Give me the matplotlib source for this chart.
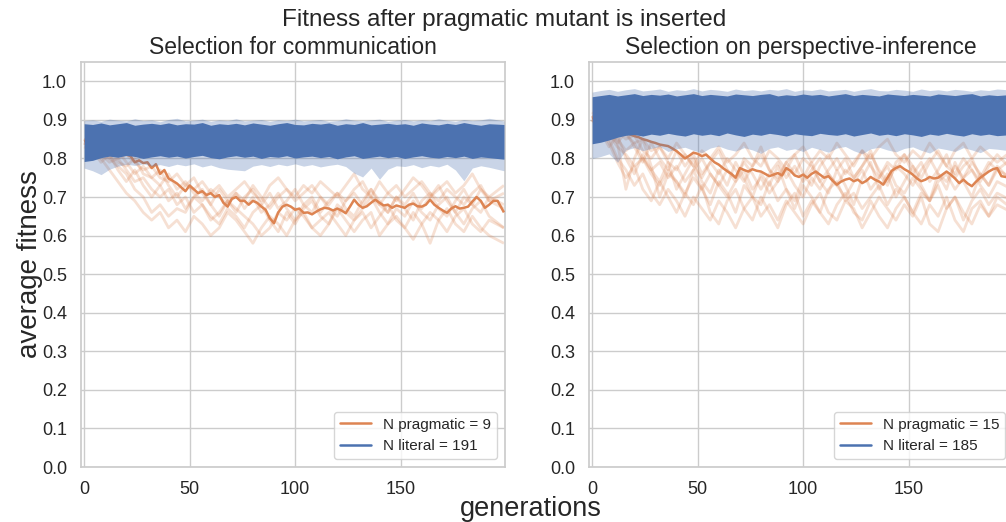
import numpy as np
import matplotlib
matplotlib.use("Agg")
import matplotlib.pyplot as plt
import seaborn as sns
from matplotlib.lines import Line2D

sns.set_theme(style="whitegrid")
plt.rcParams["font.family"] = ["Liberation Sans", "DejaVu Sans"]

titles = ["Selection for communication", "Selection on perspective-inference"]
n_pragmatic = [9, 15]
n_literal = [191, 185]

# mean fitness of pragmatic agents, every 2 generations
prag_mean_comm = [
    0.845, 0.843, 0.840, 0.838, 0.835, 0.832, 0.828, 0.825, 0.820, 0.815,
    0.810, 0.806, 0.790, 0.795, 0.788, 0.790, 0.775, 0.785, 0.760, 0.770,
    0.748, 0.742, 0.735, 0.725, 0.715, 0.730, 0.720, 0.710, 0.715, 0.705,
    0.710, 0.700, 0.705, 0.685, 0.675, 0.695, 0.700, 0.690, 0.690, 0.680,
    0.690, 0.685, 0.675, 0.667, 0.645, 0.632, 0.660, 0.675, 0.680, 0.675,
    0.667, 0.670, 0.659, 0.660, 0.655, 0.662, 0.668, 0.672, 0.670, 0.665,
    0.670, 0.665, 0.658, 0.675, 0.693, 0.680, 0.672, 0.676, 0.685, 0.693,
    0.685, 0.678, 0.680, 0.672, 0.678, 0.675, 0.672, 0.680, 0.683, 0.676,
    0.675, 0.680, 0.693, 0.680, 0.672, 0.665, 0.659, 0.670, 0.676, 0.670,
    0.672, 0.675, 0.688, 0.700, 0.690, 0.672, 0.680, 0.690, 0.690, 0.660]
prag_mean_persp = [
    0.905, 0.900, 0.895, 0.890, 0.885, 0.880, 0.875, 0.870, 0.868, 0.862,
    0.858, 0.855, 0.850, 0.847, 0.843, 0.840, 0.836, 0.834, 0.832, 0.826,
    0.819, 0.810, 0.800, 0.807, 0.815, 0.812, 0.806, 0.810, 0.800, 0.790,
    0.784, 0.775, 0.767, 0.760, 0.750, 0.775, 0.770, 0.766, 0.772, 0.768,
    0.766, 0.760, 0.754, 0.758, 0.762, 0.756, 0.775, 0.768, 0.756, 0.752,
    0.758, 0.750, 0.760, 0.766, 0.758, 0.750, 0.754, 0.742, 0.732, 0.740,
    0.745, 0.748, 0.741, 0.745, 0.736, 0.742, 0.752, 0.745, 0.740, 0.732,
    0.750, 0.768, 0.775, 0.780, 0.772, 0.766, 0.758, 0.748, 0.741, 0.745,
    0.752, 0.748, 0.750, 0.758, 0.766, 0.758, 0.748, 0.736, 0.745, 0.735,
    0.728, 0.740, 0.750, 0.758, 0.766, 0.772, 0.775, 0.754, 0.752, 0.748]

# individual pragmatic runs, every 4 generations
prag_runs_comm = [
    [0.84, 0.83, 0.82, 0.80, 0.78, 0.76, 0.72, 0.70, 0.66, 0.68, 0.65, 0.67, 0.66, 0.70, 0.68, 0.64, 0.66,
     0.69, 0.67, 0.65, 0.63, 0.60, 0.62, 0.66, 0.64, 0.67, 0.65, 0.62, 0.64, 0.66, 0.63, 0.60, 0.64, 0.66,
     0.62, 0.65, 0.68, 0.64, 0.62, 0.66, 0.63, 0.58, 0.64, 0.67, 0.63, 0.61, 0.65, 0.62, 0.60, 0.58],
    [0.85, 0.84, 0.83, 0.82, 0.80, 0.81, 0.79, 0.77, 0.78, 0.75, 0.74, 0.76, 0.73, 0.72, 0.74, 0.71, 0.73,
     0.70, 0.72, 0.74, 0.71, 0.69, 0.73, 0.75, 0.72, 0.70, 0.73, 0.71, 0.74, 0.72, 0.70, 0.73, 0.76, 0.72,
     0.70, 0.74, 0.71, 0.69, 0.72, 0.75, 0.73, 0.70, 0.72, 0.74, 0.71, 0.73, 0.76, 0.72, 0.70, 0.73],
    [0.84, 0.83, 0.81, 0.79, 0.80, 0.77, 0.74, 0.75, 0.72, 0.70, 0.72, 0.68, 0.70, 0.66, 0.68, 0.65, 0.63,
     0.67, 0.65, 0.62, 0.66, 0.68, 0.64, 0.61, 0.66, 0.63, 0.67, 0.69, 0.65, 0.63, 0.68, 0.66, 0.64, 0.67,
     0.70, 0.66, 0.63, 0.67, 0.65, 0.69, 0.66, 0.64, 0.68, 0.70, 0.66, 0.63, 0.67, 0.69, 0.65, 0.62],
    [0.83, 0.82, 0.80, 0.77, 0.74, 0.71, 0.69, 0.66, 0.64, 0.66, 0.62, 0.64, 0.61, 0.65, 0.63, 0.60, 0.62,
     0.66, 0.64, 0.61, 0.58, 0.62, 0.65, 0.63, 0.60, 0.64, 0.66, 0.62, 0.60, 0.63, 0.67, 0.64, 0.61, 0.64,
     0.66, 0.60, 0.63, 0.65, 0.62, 0.59, 0.63, 0.66, 0.64, 0.61, 0.65, 0.67, 0.63, 0.61, 0.64, 0.62],
    [0.85, 0.83, 0.82, 0.81, 0.79, 0.78, 0.80, 0.76, 0.75, 0.73, 0.76, 0.72, 0.74, 0.71, 0.69, 0.72, 0.70,
     0.68, 0.71, 0.69, 0.73, 0.70, 0.67, 0.70, 0.72, 0.69, 0.71, 0.73, 0.70, 0.68, 0.71, 0.69, 0.72, 0.74,
     0.70, 0.68, 0.71, 0.73, 0.70, 0.72, 0.74, 0.71, 0.69, 0.72, 0.70, 0.68, 0.71, 0.73, 0.69, 0.67],
    [0.84, 0.82, 0.79, 0.81, 0.77, 0.74, 0.77, 0.73, 0.70, 0.73, 0.69, 0.71, 0.67, 0.70, 0.72, 0.68, 0.65,
     0.69, 0.71, 0.67, 0.70, 0.66, 0.68, 0.71, 0.67, 0.64, 0.68, 0.70, 0.66, 0.69, 0.71, 0.67, 0.65, 0.69,
     0.72, 0.68, 0.66, 0.70, 0.67, 0.64, 0.69, 0.71, 0.67, 0.65, 0.69, 0.72, 0.68, 0.66, 0.70, 0.68],
    [0.85, 0.84, 0.82, 0.80, 0.82, 0.79, 0.76, 0.78, 0.75, 0.77, 0.73, 0.70, 0.73, 0.75, 0.71, 0.68, 0.72,
     0.69, 0.66, 0.70, 0.72, 0.68, 0.71, 0.67, 0.69, 0.72, 0.68, 0.66, 0.70, 0.67, 0.65, 0.69, 0.71, 0.68,
     0.72, 0.69, 0.66, 0.70, 0.68, 0.71, 0.67, 0.70, 0.73, 0.69, 0.66, 0.70, 0.68, 0.72, 0.69, 0.71],
]
prag_runs_persp = [
    [0.90, 0.88, 0.86, 0.84, 0.72, 0.80, 0.85, 0.78, 0.70, 0.76, 0.74, 0.70, 0.77, 0.72, 0.68, 0.74, 0.71,
     0.66, 0.73, 0.70, 0.68, 0.74, 0.69, 0.72, 0.67, 0.73, 0.70, 0.66, 0.72, 0.74, 0.69, 0.71, 0.67, 0.70,
     0.73, 0.68, 0.72, 0.70, 0.66, 0.71, 0.69, 0.73, 0.67, 0.70, 0.64, 0.69, 0.72, 0.68, 0.71, 0.69],
    [0.91, 0.90, 0.88, 0.87, 0.86, 0.84, 0.85, 0.82, 0.83, 0.80, 0.84, 0.81, 0.78, 0.82, 0.80, 0.83, 0.79,
     0.81, 0.84, 0.80, 0.78, 0.82, 0.80, 0.77, 0.81, 0.83, 0.79, 0.82, 0.80, 0.84, 0.81, 0.78, 0.82, 0.80,
     0.83, 0.85, 0.81, 0.79, 0.82, 0.80, 0.84, 0.81, 0.78, 0.82, 0.84, 0.80, 0.83, 0.81, 0.79, 0.82],
    [0.90, 0.89, 0.86, 0.83, 0.81, 0.78, 0.80, 0.76, 0.73, 0.77, 0.74, 0.71, 0.75, 0.72, 0.76, 0.73, 0.70,
     0.74, 0.77, 0.72, 0.75, 0.71, 0.74, 0.77, 0.73, 0.70, 0.75, 0.72, 0.76, 0.73, 0.70, 0.74, 0.77, 0.72,
     0.75, 0.78, 0.73, 0.71, 0.75, 0.72, 0.69, 0.74, 0.76, 0.72, 0.75, 0.77, 0.73, 0.70, 0.74, 0.72],
    [0.91, 0.88, 0.85, 0.80, 0.77, 0.73, 0.76, 0.71, 0.68, 0.72, 0.69, 0.65, 0.70, 0.67, 0.64, 0.69, 0.66,
     0.62, 0.67, 0.70, 0.65, 0.68, 0.64, 0.69, 0.66, 0.63, 0.68, 0.71, 0.66, 0.64, 0.69, 0.67, 0.62, 0.66,
     0.70, 0.67, 0.64, 0.68, 0.65, 0.70, 0.63, 0.61, 0.67, 0.70, 0.66, 0.63, 0.68, 0.65, 0.70, 0.67],
    [0.92, 0.90, 0.89, 0.87, 0.85, 0.86, 0.82, 0.80, 0.83, 0.79, 0.77, 0.81, 0.78, 0.75, 0.79, 0.76, 0.80,
     0.77, 0.74, 0.78, 0.81, 0.77, 0.75, 0.79, 0.76, 0.80, 0.78, 0.74, 0.77, 0.80, 0.76, 0.79, 0.82, 0.78,
     0.75, 0.79, 0.77, 0.81, 0.78, 0.75, 0.79, 0.82, 0.78, 0.76, 0.80, 0.77, 0.74, 0.78, 0.81, 0.77],
    [0.91, 0.89, 0.87, 0.85, 0.82, 0.84, 0.80, 0.77, 0.79, 0.75, 0.78, 0.74, 0.77, 0.80, 0.76, 0.73, 0.77,
     0.75, 0.79, 0.76, 0.72, 0.76, 0.79, 0.75, 0.78, 0.74, 0.77, 0.80, 0.76, 0.73, 0.77, 0.75, 0.78, 0.81,
     0.77, 0.74, 0.78, 0.76, 0.73, 0.77, 0.80, 0.76, 0.74, 0.78, 0.75, 0.79, 0.76, 0.73, 0.77, 0.75],
    [0.90, 0.87, 0.83, 0.86, 0.80, 0.76, 0.81, 0.77, 0.74, 0.79, 0.72, 0.76, 0.80, 0.74, 0.71, 0.77, 0.73,
     0.79, 0.75, 0.70, 0.76, 0.73, 0.78, 0.72, 0.69, 0.75, 0.79, 0.74, 0.71, 0.77, 0.73, 0.68, 0.75, 0.79,
     0.72, 0.76, 0.70, 0.74, 0.78, 0.73, 0.69, 0.76, 0.72, 0.79, 0.74, 0.70, 0.76, 0.73, 0.78, 0.74],
    [0.91, 0.89, 0.88, 0.84, 0.87, 0.83, 0.79, 0.84, 0.80, 0.77, 0.82, 0.78, 0.81, 0.76, 0.79, 0.82, 0.77,
     0.74, 0.80, 0.78, 0.83, 0.77, 0.74, 0.79, 0.81, 0.76, 0.73, 0.78, 0.81, 0.77, 0.80, 0.75, 0.78, 0.82,
     0.76, 0.73, 0.79, 0.81, 0.76, 0.79, 0.74, 0.77, 0.81, 0.75, 0.78, 0.80, 0.75, 0.79, 0.77, 0.80],
    [0.90, 0.88, 0.84, 0.79, 0.75, 0.78, 0.72, 0.69, 0.74, 0.70, 0.66, 0.71, 0.68, 0.73, 0.66, 0.63, 0.69,
     0.72, 0.67, 0.64, 0.70, 0.66, 0.62, 0.68, 0.71, 0.65, 0.69, 0.66, 0.63, 0.68, 0.71, 0.66, 0.64, 0.69,
     0.65, 0.62, 0.67, 0.70, 0.66, 0.63, 0.68, 0.65, 0.70, 0.64, 0.61, 0.67, 0.69, 0.65, 0.68, 0.66],
]

# literal agents: spread of the 191 / 185 runs, every 4 generations
lit_max_comm = [0.898, 0.900, 0.896, 0.902, 0.899, 0.897, 0.903, 0.898, 0.900, 0.895, 0.901, 0.904, 0.897,
                0.899, 0.902, 0.896, 0.900, 0.898, 0.903, 0.897, 0.899, 0.901, 0.896, 0.900, 0.898, 0.902,
                0.897, 0.899, 0.901, 0.896, 0.898, 0.903, 0.899, 0.897, 0.900, 0.902, 0.896, 0.899, 0.901,
                0.897, 0.900, 0.898, 0.903, 0.899, 0.896, 0.901, 0.898, 0.900, 0.904, 0.897]
lit_hi_comm = [0.890, 0.888, 0.892, 0.887, 0.890, 0.893, 0.886, 0.889, 0.891, 0.888, 0.892, 0.887, 0.890,
               0.889, 0.893, 0.886, 0.890, 0.888, 0.891, 0.887, 0.892, 0.889, 0.886, 0.890, 0.893, 0.888,
               0.887, 0.891, 0.889, 0.892, 0.886, 0.890, 0.888, 0.893, 0.887, 0.889, 0.891, 0.888, 0.890,
               0.886, 0.892, 0.889, 0.887, 0.891, 0.888, 0.893, 0.889, 0.886, 0.890, 0.888]
lit_lo_comm = [0.792, 0.795, 0.802, 0.806, 0.803, 0.808, 0.805, 0.800, 0.804, 0.807, 0.803, 0.806, 0.801,
               0.805, 0.808, 0.802, 0.799, 0.804, 0.807, 0.803, 0.806, 0.800, 0.805, 0.803, 0.807, 0.801,
               0.804, 0.806, 0.802, 0.805, 0.799, 0.804, 0.807, 0.800, 0.803, 0.806, 0.802, 0.805, 0.800,
               0.804, 0.807, 0.803, 0.801, 0.805, 0.802, 0.806, 0.800, 0.804, 0.802, 0.798]
lit_min_comm = [0.775, 0.768, 0.758, 0.772, 0.780, 0.785, 0.782, 0.786, 0.780, 0.784, 0.779, 0.785, 0.781,
                0.786, 0.778, 0.783, 0.776, 0.772, 0.770, 0.768, 0.780, 0.784, 0.779, 0.785, 0.781, 0.786,
                0.780, 0.784, 0.778, 0.782, 0.785, 0.779, 0.762, 0.752, 0.775, 0.746, 0.772, 0.781, 0.779,
                0.784, 0.776, 0.782, 0.778, 0.785, 0.770, 0.742, 0.775, 0.781, 0.777, 0.768]
lit_max_persp = [0.972, 0.976, 0.979, 0.974, 0.978, 0.981, 0.975, 0.977, 0.980, 0.974, 0.978, 0.976, 0.981,
                 0.975, 0.979, 0.977, 0.974, 0.980, 0.976, 0.978, 0.975, 0.979, 0.977, 0.981, 0.974, 0.978,
                 0.976, 0.980, 0.975, 0.977, 0.979, 0.974, 0.978, 0.981, 0.976, 0.975, 0.979, 0.977, 0.974,
                 0.980, 0.976, 0.978, 0.975, 0.979, 0.977, 0.974, 0.978, 0.976, 0.980, 0.977]
lit_hi_persp = [0.960, 0.963, 0.966, 0.962, 0.965, 0.968, 0.963, 0.966, 0.964, 0.967, 0.962, 0.965, 0.968,
                0.963, 0.966, 0.964, 0.962, 0.967, 0.965, 0.963, 0.966, 0.968, 0.962, 0.965, 0.963, 0.967,
                0.964, 0.966, 0.962, 0.965, 0.968, 0.963, 0.966, 0.964, 0.962, 0.967, 0.965, 0.963, 0.966,
                0.964, 0.962, 0.967, 0.965, 0.963, 0.966, 0.968, 0.962, 0.965, 0.963, 0.966]
lit_lo_persp = [0.838, 0.842, 0.848, 0.855, 0.860, 0.862, 0.858, 0.863, 0.860, 0.865, 0.861, 0.858, 0.864,
                0.860, 0.863, 0.859, 0.866, 0.861, 0.857, 0.863, 0.860, 0.865, 0.862, 0.858, 0.864, 0.861,
                0.859, 0.865, 0.862, 0.860, 0.864, 0.858, 0.862, 0.866, 0.860, 0.863, 0.859, 0.864, 0.861,
                0.857, 0.863, 0.860, 0.865, 0.861, 0.858, 0.864, 0.860, 0.863, 0.859, 0.862]
lit_min_persp = [0.800, 0.805, 0.812, 0.790, 0.822, 0.828, 0.820, 0.826, 0.831, 0.818, 0.825, 0.829, 0.821,
                 0.815, 0.827, 0.832, 0.824, 0.819, 0.828, 0.822, 0.813, 0.826, 0.830, 0.821, 0.825, 0.818,
                 0.829, 0.823, 0.816, 0.827, 0.831, 0.820, 0.812, 0.825, 0.829, 0.822, 0.817, 0.826, 0.830,
                 0.821, 0.814, 0.827, 0.823, 0.818, 0.828, 0.822, 0.815, 0.826, 0.824, 0.819]

blue = "#4c72b0"
orange = "#dd8452"
text_col = "#262626"

fig = plt.figure(figsize=(10.06, 5.22), dpi=100)
ax1 = fig.add_axes([81 / 1006, 55 / 522, 424 / 1006, 405 / 522])
ax2 = fig.add_axes([589 / 1006, 55 / 522, 424 / 1006, 405 / 522])

panels = [
    (ax1, prag_mean_comm, prag_runs_comm, lit_min_comm, lit_lo_comm, lit_hi_comm, lit_max_comm),
    (ax2, prag_mean_persp, prag_runs_persp, lit_min_persp, lit_lo_persp, lit_hi_persp, lit_max_persp),
]

for i, (ax, mean, runs, lmin, llo, lhi, lmax) in enumerate(panels):
    g2 = np.arange(len(mean)) * 2
    g2[-1] = 199
    g4 = np.arange(len(lmin)) * 4
    g4[-1] = 199
    for run in runs:
        ax.plot(g4, run, color=orange, alpha=0.25, lw=2, zorder=2,
                solid_capstyle="butt")
    ax.plot(g2, mean, color=orange, lw=1.8, zorder=3, solid_capstyle="butt")
    ax.fill_between(g4, lmin, lmax, color=blue, alpha=0.3, lw=0, zorder=4)
    ax.fill_between(g4, llo, lhi, color=blue, alpha=1.0, lw=0, zorder=5)

    ax.set_xlim(-1.5, 199.5)
    ax.set_ylim(0, 1.05)
    ax.set_xticks([0, 50, 100, 150])
    ax.set_yticks(np.arange(0, 1.01, 0.1))
    ax.set_yticklabels([f"{v:.1f}" for v in np.arange(0, 1.01, 0.1)])
    ax.tick_params(labelsize=13, colors=text_col, pad=4)
    ax.set_title(titles[i], fontsize=16.5, color=text_col, pad=6)

    handles = [Line2D([0], [0], color=orange, lw=1.8),
               Line2D([0], [0], color=blue, lw=1.8)]
    labels = [f"N pragmatic = {n_pragmatic[i]}", f"N literal = {n_literal[i]}"]
    ax.legend(handles, labels, loc="lower right", fontsize=11, frameon=True)

fig.text(504 / 1006, 1 - 20 / 522, "Fitness after pragmatic mutant is inserted",
         ha="center", va="center", fontsize=17.5, color=text_col)
fig.text(531 / 1006, 1 - 509 / 522, "generations", ha="center", va="center",
         fontsize=19.5, color=text_col)
fig.text(30 / 1006, 1 - 264 / 522, "average fitness", ha="center", va="center",
         rotation=90, fontsize=20, color=text_col)

fig.savefig("out.png", dpi=100)
